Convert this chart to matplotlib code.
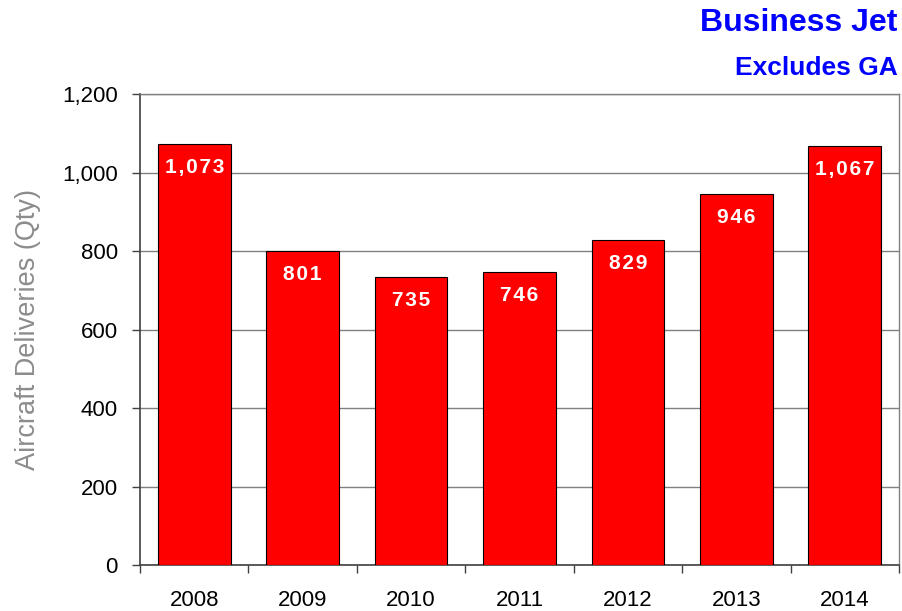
import matplotlib.pyplot as plt
import numpy as np

plt.rcParams['font.family'] = ['Liberation Sans', 'DejaVu Sans']

# Business jet deliveries per year
years = ["2008", "2009", "2010", "2011", "2012", "2013", "2014"]
deliveries = [1073, 801, 735, 746, 829, 946, 1067]
y_ticks = [0, 200, 400, 600, 800, 1000, 1200]

fig = plt.figure(figsize=(9.02, 6.11), dpi=100)
ax = fig.add_axes([0.1552, 0.0753, 0.8415, 0.7707])

x = np.arange(len(years))
bars = ax.bar(x, deliveries, width=0.67, color="#FF0000",
              edgecolor="black", linewidth=0.8, zorder=3)

# Value labels inside the top of each bar, with a little letter spacing
for rect, val in zip(bars, deliveries):
    label = "\u200a".join(f"{val:,}")
    ax.annotate(label, xy=(rect.get_x() + rect.get_width() / 2, val),
                xytext=(0, -17), textcoords="offset points",
                ha="center", va="center", color="white",
                fontsize=15, fontweight="bold", zorder=4)

ax.set_xlim(-0.5, len(years) - 0.5)
ax.set_ylim(0, 1200)
ax.set_yticks(y_ticks)
ax.set_yticklabels([f"{v:,}" for v in y_ticks], fontsize=16)
ax.yaxis.grid(True, color="#808080", linewidth=1, zorder=0)

# Category labels at centers, tick marks at boundaries
ax.set_xticks(x)
ax.set_xticklabels(years, fontsize=16)
ax.set_xticks(np.arange(-0.5, len(years)), minor=True)
ax.tick_params(axis="x", which="major", length=0, pad=18)
ax.tick_params(axis="x", which="minor", length=6, width=1, color="#404040")
ax.tick_params(axis="y", length=6, width=1, color="#404040", pad=10)

for side in ["left", "bottom"]:
    ax.spines[side].set_color("#404040")
    ax.spines[side].set_linewidth(1.2)
for side in ["top", "right"]:
    ax.spines[side].set_color("#808080")
    ax.spines[side].set_linewidth(1)

ax.set_ylabel("Aircraft Deliveries (Qty)", fontsize=19.5, color="#8C8C8C")
ax.yaxis.set_label_coords(-0.130, 0.5)

fig.text(0.995, 0.963, "Business Jet", ha="right", va="center",
         fontsize=23, fontweight="bold", color="#0000FF")
fig.text(0.995, 0.888, "Excludes GA", ha="right", va="center",
         fontsize=19, fontweight="bold", color="#0000FF")

fig.savefig("out.png", dpi=100)
